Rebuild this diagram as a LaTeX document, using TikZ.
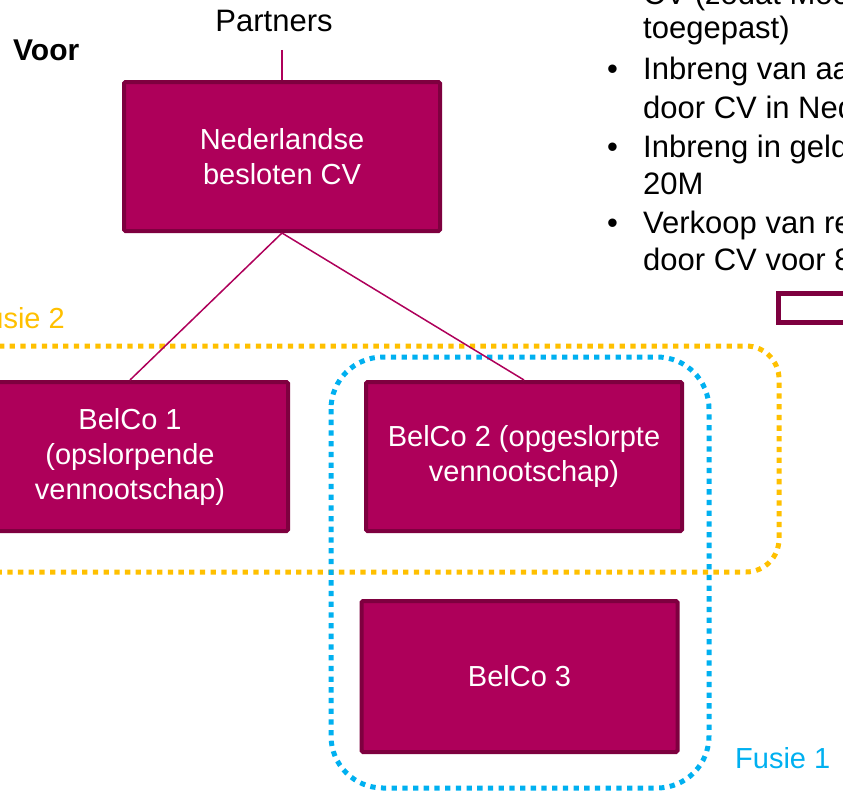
\documentclass[tikz,border=0pt]{standalone}
\usepackage{fontspec}
\setmainfont{Liberation Sans}
\definecolor{boxfill}{HTML}{AE005A}
\definecolor{boxborder}{HTML}{7E003F}
\definecolor{fusyellow}{HTML}{FFC000}
\definecolor{fusblue}{HTML}{00B0F0}
\begin{document}
\begin{tikzpicture}[x=1pt,y=-1pt,
  box/.style={draw=boxborder, fill=boxfill, line width=4pt, text=white, align=center,
    font=\fontsize{29}{35}\selectfont, inner sep=0pt, rounded corners=1.5pt,
    minimum width=316pt, minimum height=149pt},
  conn/.style={draw=boxfill, line width=1.5pt},
  lbl/.style={font=\fontsize{31}{37}\selectfont, inner sep=0pt},
  yfus/.style={draw=fusyellow, line width=5pt, dash pattern=on 5.3pt off 5.4pt, rounded corners=33pt},
  bfus/.style={draw=fusblue, line width=5pt, dash pattern=on 5.3pt off 5.4pt, rounded corners=52pt}
]
\useasboundingbox (0,0) rectangle (843,792);
\clip (0,0) rectangle (843,792);

% fusion groups
\draw[yfus] (-60,346) rectangle (779,572);
\draw[bfus] (331,357) rectangle (709,788);

% labels
\node[lbl, font=\fontsize{30}{36}\selectfont\bfseries, anchor=base west] (voor) at (13,60) {Voor};
\node[lbl, anchor=base] (partners) at (274,32) {Partners};
\node[lbl, anchor=base east, text=fusyellow, font=\fontsize{29}{35}\selectfont] (fus2) at (65,328) {Fusie 2};
\node[lbl, anchor=base west, text=fusblue, font=\fontsize{29}{35}\selectfont] (fus1) at (735,768) {Fusie 1};

% boxes
\node[box] (ned) at (282,156.5) {Nederlandse\\besloten CV};
\node[box] (bc1) at (130,456.5) {BelCo 1\\(opslorpende\\vennootschap)};
\node[box] (bc2) at (524,456.5) {BelCo 2 (opgeslorpte\\vennootschap)};
\node[box, minimum height=151pt] (bc3) at (519.5,676.5) {BelCo 3};

% connectors
\coordinate (ptop) at (282,50);
\draw[conn] (ptop) -- (ned.north);
\draw[conn] (ned.south) -- (bc1.north);
\draw[conn] (ned.south) -- (bc2.north);

% bullet text (clipped at right and top)
\node[lbl, anchor=base west] (t1) at (643,5) {CV (zodat Moeder};
\node[lbl, anchor=base west] (t2) at (643,39) {toegepast)};
\node[lbl, anchor=base west] (t3) at (643,80) {Inbreng van aandelen};
\node[lbl, anchor=base west] (t4) at (643,118) {door CV in Nederland};
\node[lbl, anchor=base west] (t5) at (643,157) {Inbreng in geld};
\node[lbl, anchor=base west] (t6) at (643,194) {20M};
\node[lbl, anchor=base west] (t7) at (643,233) {Verkoop van rechten};
\node[lbl, anchor=base west] (t8) at (643,270) {door CV voor 80M};
\node[lbl, anchor=base] (u1) at (612.5,80) {•};
\node[lbl, anchor=base] (u2) at (612.5,157) {•};
\node[lbl, anchor=base] (u3) at (612.5,233) {•};

% small outlined box at right
\node[draw=boxborder, line width=5pt, fill=white, minimum width=100pt, minimum height=29pt,
  inner sep=0pt, anchor=north west] (sbox) at (775.5,290.5) {};
\end{tikzpicture}
\end{document}
